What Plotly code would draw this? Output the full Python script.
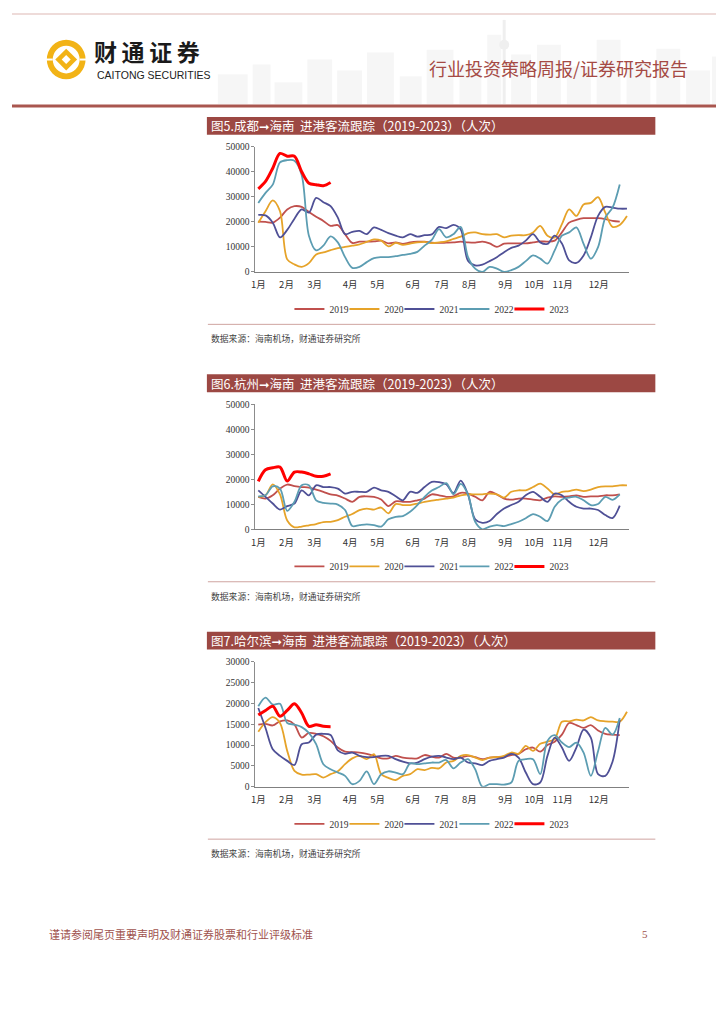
import plotly.graph_objects as go

# the browser keeps its default 8px body margin and adds a small gap under
# the plot div, so the figure is drawn a little smaller than the window and
# every page pixel is shifted by the margin
PAGE_W, PAGE_H, BODY, GAP = 724, 1024, 8, 8
W, H = PAGE_W - 2 * BODY, PAGE_H - 2 * BODY - GAP

# ---- data (weekly inbound passengers) ----
YEARS = ["2019", "2020", "2021", "2022", "2023"]
MONTH_LABELS = ["1月", "2月", "3月", "4月", "5月", "6月", "7月", "8月", "9月", "10月", "11月", "12月"]
MONTH_WEEKS = [0, 3.9, 7.8, 12.7, 16.5, 21.4, 25.4, 29.2, 34.2, 38.2, 42.1, 47.1]

CD_2019 = [20100, 20000, 19700, 21700, 25000, 26300, 26000, 24000, 22100, 20400, 18400, 18700, 15100,
           11600, 12100, 12100, 12200, 12500, 11400, 11800, 11200, 11800, 12100, 12100, 11700, 11600,
           11700, 11800, 12100, 11800, 11700, 12100, 11400, 10000, 11300, 11400, 11400, 11400, 11800,
           12200, 12100, 12500, 15800, 19700, 20800, 21500, 21500, 21500, 21100, 20400, 20100]
CD_2020 = [19700, 24300, 28600, 24300, 5000, 3000, 2000, 3500, 7000, 7800, 8700, 9500, 10000, 10500,
           11000, 12000, 13000, 12500, 10200, 11600, 10800, 11300, 11800, 12000, 11500, 11800, 12200,
           13200, 14100, 15500, 15800, 15100, 14900, 15100, 13800, 14500, 14700, 14700, 15800, 18400,
           14500, 13800, 19100, 25000, 22400, 27000, 27600, 29900, 23700, 18000, 18800, 22400]
CD_2021 = [22800, 22600, 19700, 13800, 16800, 21300, 25000, 23700, 29600, 27900, 26300, 21700, 15100,
           16000, 16400, 15100, 17800, 16800, 15500, 14500, 13800, 15100, 14100, 14700, 15000, 18000,
           17500, 18800, 17000, 4500, 2600, 2900, 4300, 5900, 7900, 9600, 10500, 12500, 15100, 11800,
           11200, 14500, 11400, 4600, 3600, 6600, 13800, 22400, 26000, 25700, 25300, 25300]
CD_2022 = [27600, 31600, 34900, 43800, 44700, 44500, 38800, 14500, 8600, 10500, 14200, 11800, 5900,
           1600, 2000, 3900, 5500, 5900, 5900, 6300, 6800, 7200, 8000, 10500, 12800, 17100, 13800,
           15100, 18000, 6000, 1300, 0, 2000, 1300, 0, 700, 2000, 4300, 6600, 5300, 3300, 8600, 14500,
           15800, 17800, 11200, 5300, 9900, 21700, 25700, 35000]
CD_2023 = [33200, 36200, 41500, 47400, 46300, 46300, 40100, 35500, 34900, 34500, 35800]

HZ_2019 = [13000, 12300, 13600, 16300, 17900, 17300, 16900, 16700, 15900, 15000, 14000, 13500, 12300,
           11000, 13000, 13200, 13000, 11900, 9300, 11200, 11000, 11000, 11600, 12300, 14000, 13600,
           13000, 13200, 14600, 14300, 13000, 11600, 15000, 13900, 12300, 11900, 12300, 12300, 11900,
           11600, 12700, 13200, 13000, 13200, 13600, 13000, 13200, 13200, 13600, 13600, 14000]
HZ_2020 = [13000, 13600, 18000, 14000, 3500, 800, 1100, 1600, 2100, 2900, 3000, 3700, 5000, 6100,
           7700, 8300, 7900, 8700, 6400, 10100, 9700, 9700, 10300, 11000, 11500, 11900, 12300, 12700,
           13600, 14000, 14000, 14000, 14300, 14000, 12700, 15000, 15600, 15600, 16900, 18300, 16300,
           14000, 15000, 15300, 15900, 15300, 15900, 16900, 17200, 17200, 17600, 17600]
HZ_2021 = [15600, 13000, 10300, 7900, 9300, 10300, 15600, 13600, 17600, 16900, 16900, 16300, 14300,
           15000, 15000, 15000, 16700, 15600, 15000, 13200, 11600, 15000, 14600, 16900, 19000, 18900,
           18000, 14500, 19500, 14000, 4000, 2600, 3300, 6100, 8300, 9700, 11000, 13600, 15000, 13000,
           11000, 14300, 13600, 11000, 9000, 8300, 8300, 7700, 5700, 4500, 9500]
HZ_2022 = [13200, 13600, 17200, 16300, 7400, 11000, 17600, 17600, 11600, 10600, 10300, 9900, 7700,
           1300, 1700, 2000, 1700, 1100, 4000, 5000, 5300, 7000, 9700, 13000, 15500, 16900, 18500,
           14000, 18200, 14000, 3000, 0, 1100, 1700, 1300, 2100, 3000, 4400, 6100, 5000, 3300, 9000,
           11900, 12700, 13000, 11600, 9700, 10100, 13000, 11800, 14000]
HZ_2023 = [19200, 23800, 24600, 24900, 19300, 22900, 22900, 22200, 21200, 21200, 22200]

HEB_2019 = [14900, 15100, 14700, 15700, 15900, 14900, 11800, 12900, 12700, 12100, 11000, 9400, 8400,
            8300, 8200, 7900, 7400, 6800, 6800, 7400, 7000, 6800, 6800, 7600, 7200, 7000, 7900, 7000,
            7000, 7400, 7100, 6600, 7000, 7100, 7100, 7600, 7900, 9000, 9400, 8400, 10000, 10800,
            12500, 15300, 14800, 14100, 14800, 13500, 12700, 12500, 12400]
HEB_2020 = [13200, 15500, 16700, 15300, 8600, 3800, 2900, 2900, 3000, 2200, 3000, 3700, 5400, 6800,
            7400, 6600, 7800, 3000, 2100, 1600, 2600, 3000, 4200, 4000, 4500, 4400, 5800, 6200, 7400,
            7600, 7000, 6400, 7000, 7100, 7400, 8200, 7900, 9800, 8600, 10300, 10800, 11400, 15600,
            15700, 16100, 15900, 16700, 15900, 15700, 15600, 15600, 18000]
HEB_2021 = [18900, 14100, 9000, 7400, 6200, 5200, 10200, 10600, 12500, 12700, 12400, 8700, 7900,
            8200, 7400, 7100, 7100, 7400, 7400, 6600, 6000, 5600, 5800, 6600, 7200, 7400, 7000, 6600,
            7000, 5800, 5600, 5200, 6200, 6600, 7000, 7900, 7000, 3400, 600, 1000, 7400, 11800, 9400,
            6200, 9400, 13700, 11800, 3000, 2600, 6000, 16100]
HEB_2022 = [19300, 21400, 19700, 19900, 15300, 14900, 14300, 12900, 10200, 5400, 4200, 3400, 2600,
            600, 1400, 3700, 600, 3000, 3700, 3400, 3000, 5600, 5400, 5600, 5800, 5800, 6400, 4400,
            5800, 6600, 4200, 0, 600, 600, 500, 1000, 6200, 6600, 6600, 3000, 11000, 12400, 10600,
            9500, 10600, 8200, 2600, 8500, 14100, 12500, 16500]
HEB_2023 = [17200, 18300, 19300, 16900, 18300, 19900, 17700, 14500, 14900, 14500, 14400]

# ---- styling ----
COLORS = ["#C0504D", "#E6A329", "#4F5096", "#5C9DB2", "#FF0000"]
WIDTHS = [1.8, 1.8, 1.8, 1.8, 3]
BAR = "#9C4843"
GOLD = "#F2B316"
SERIF = "Liberation Serif, DejaVu Serif"
CJK = "Noto Sans CJK SC, DejaVu Sans"

CHARTS = [
    dict(title="图5.成都➞海南  进港客流跟踪（2019-2023）（人次）", top=113,
         series=[CD_2019, CD_2020, CD_2021, CD_2022, CD_2023], ymax=50000, dtick=10000),
    dict(title="图6.杭州➞海南  进港客流跟踪（2019-2023）（人次）", top=373,
         series=[HZ_2019, HZ_2020, HZ_2021, HZ_2022, HZ_2023], ymax=50000, dtick=10000),
    dict(title="图7.哈尔滨➞海南  进港客流跟踪（2019-2023）（人次）", top=633,
         series=[HEB_2019, HEB_2020, HEB_2021, HEB_2022, HEB_2023], ymax=30000, dtick=5000),
]


def px(x):
    """page pixel -> paper fraction"""
    return (x - BODY) / W


def py(y):
    return 1 - (y - BODY) / H


def box(kind, x0, y0, x1, y1, fill, layer="above"):
    return dict(type=kind, xref="paper", yref="paper", x0=px(x0), x1=px(x1),
                y0=py(y1), y1=py(y0), fillcolor=fill, line=dict(width=0), layer=layer)


def diamond(cx, cy, r, fill):
    path = (f"M {px(cx)},{py(cy - r)} L {px(cx + r)},{py(cy)} L {px(cx)},{py(cy + r)} "
            f"L {px(cx - r)},{py(cy)} Z")
    return dict(type="path", xref="paper", yref="paper", path=path, fillcolor=fill,
                line=dict(width=0))


X0, X1 = 252.7, 629.0          # page pixels of the x axis
FIRST, STEP = 255.7, 7.27       # page x of week 0, pixels per week

fig = go.Figure()
shapes, annotations = [], []

for n, chart in enumerate(CHARTS, start=1):
    top = chart["top"]
    suffix = "" if n == 1 else str(n)
    legend_name = "legend" if n == 1 else f"legend{n}"
    for year, vals, color, width in zip(YEARS, chart["series"], COLORS, WIDTHS):
        fig.add_trace(go.Scatter(
            x=list(range(len(vals))), y=vals, mode="lines", name=year,
            line=dict(color=color, width=width, shape="spline", smoothing=0.9),
            xaxis="x" + suffix, yaxis="y" + suffix, legend=legend_name,
            legendwidth=25 if year == YEARS[-1] else None,
            hoverinfo="skip",
        ))

    y_zero, y_top = top + 156.5, top + 30.3
    fig.layout["xaxis" + suffix] = dict(
        domain=[px(X0), px(X1)], anchor="y" + suffix,
        range=[(X0 - FIRST) / STEP, (X1 - FIRST) / STEP],
        tickvals=MONTH_WEEKS, ticktext=MONTH_LABELS, ticks="",
        tickfont=dict(family=CJK, size=9.5, color="#333"),
        ticklabelstandoff=4,
        showline=True, linecolor="#808080", linewidth=1.3,
        showgrid=False, zeroline=False, fixedrange=True,
    )
    fig.layout["yaxis" + suffix] = dict(
        domain=[py(y_zero), py(y_top)], anchor="x" + suffix,
        range=[0, chart["ymax"]], dtick=chart["dtick"], tickformat="d",
        ticks="outside", ticklen=3, tickcolor="#8C8C8C",
        tickfont=dict(family=SERIF, size=9.5, color="#333"),
        showline=True, linecolor="#8C8C8C", linewidth=1,
        showgrid=False, zeroline=False, fixedrange=True,
    )
    fig.layout[legend_name] = dict(
        orientation="h", x=px(287), xanchor="left", y=py(top + 194), yanchor="middle",
        entrywidth=10, entrywidthmode="pixels",
        font=dict(family=SERIF, size=9.5, color="#333"),
        bgcolor="rgba(0,0,0,0)", itemclick=False, itemdoubleclick=False,
    )

    # title bar, separator and source line
    shapes.append(box("rect", 204, top, 655, top + 18, BAR))
    annotations.append(dict(text=chart["title"], x=px(206), y=py(top + 9),
                            xanchor="left", yanchor="middle",
                            font=dict(family=CJK, size=12.5, color="white")))
    shapes.append(dict(type="line", xref="paper", yref="paper", x0=px(205), x1=px(655),
                       y0=py(top + 209.5), y1=py(top + 209.5),
                       line=dict(color="#CFA4A0", width=1)))
    annotations.append(dict(text="数据来源：海南机场，财通证券研究所", x=px(206), y=py(top + 224),
                            xanchor="left", yanchor="middle",
                            font=dict(family=CJK, size=8.8, color="#444")))

# ---- page header ----
SKYLINE = [(215, 245, 70), (250, 268, 60), (272, 300, 78), (305, 330, 55), (335, 360, 66),
           (365, 392, 48), (398, 420, 72), (425, 452, 45), (458, 480, 60), (486, 500, 30),
           (510, 530, 50), (536, 560, 40), (566, 590, 62), (596, 620, 35), (626, 650, 58),
           (656, 680, 44), (686, 710, 66), (712, 724, 52)]
for x0, x1, ytop in SKYLINE:
    shapes.append(box("rect", x0, ytop, x1, 100, "#F6F6F6", layer="below"))
shapes.append(dict(type="line", xref="paper", yref="paper", x0=px(503), x1=px(503),
                   y0=py(100), y1=py(15), line=dict(color="#EFEFEF", width=3), layer="below"))
shapes.append(box("circle", 498, 35, 508, 45, "#EFEFEF", layer="below"))

# border line on top and the thick rule under the header
shapes.append(dict(type="line", xref="paper", yref="paper", x0=0, x1=1, y0=py(9), y1=py(9),
                   line=dict(color="#E8CFCC", width=1.5)))
shapes.append(dict(type="line", xref="paper", yref="paper", x0=0, x1=px(722), y0=py(102),
                   y1=py(102), line=dict(color="#A9564F", width=3)))

# logo emblem: gold ring with a gold diamond holding a small white hole
shapes += [
    box("circle", 43, 35, 82, 75, GOLD),
    box("circle", 49, 41, 76, 69, "white"),
    box("rect", 42, 54, 49, 56, "white"),
    box("rect", 76, 54, 83, 56, "white"),
    diamond(62.5, 55, 11, GOLD),
    diamond(62.5, 55, 4.5, "white"),
]

annotations += [
    dict(text="<b>财\u2009通\u2009证\u2009券</b>", x=px(88), y=py(46.5), xanchor="left",
         yanchor="middle", font=dict(family=CJK, size=23, color="#1A1A1A")),
    dict(text="CAITONG SECURITIES", x=px(91), y=py(70.5), xanchor="left", yanchor="middle",
         font=dict(family="Liberation Sans, Arial", size=10.5, color="#222")),
    dict(text="行业投资策略周报/证券研究报告", x=px(690), y=py(64), xanchor="right",
         yanchor="middle", font=dict(family=CJK, size=18, color="#A54A44")),
    dict(text="谨请参阅尾页重要声明及财通证券股票和行业评级标准", x=px(43), y=py(938),
         xanchor="left", yanchor="middle", font=dict(family=CJK, size=11, color="#A0524D")),
    dict(text="5", x=px(645), y=py(938), xanchor="center", yanchor="middle",
         font=dict(family=SERIF, size=11, color="#A0524D")),
]
for a in annotations:
    a.setdefault("xref", "paper")
    a.setdefault("yref", "paper")
    a.setdefault("showarrow", False)

fig.update_layout(
    width=W, height=H, margin=dict(l=0, r=0, t=0, b=0),
    paper_bgcolor="white", plot_bgcolor="white",
    shapes=shapes, annotations=annotations, showlegend=True,
)

fig.write_html("out.html")
